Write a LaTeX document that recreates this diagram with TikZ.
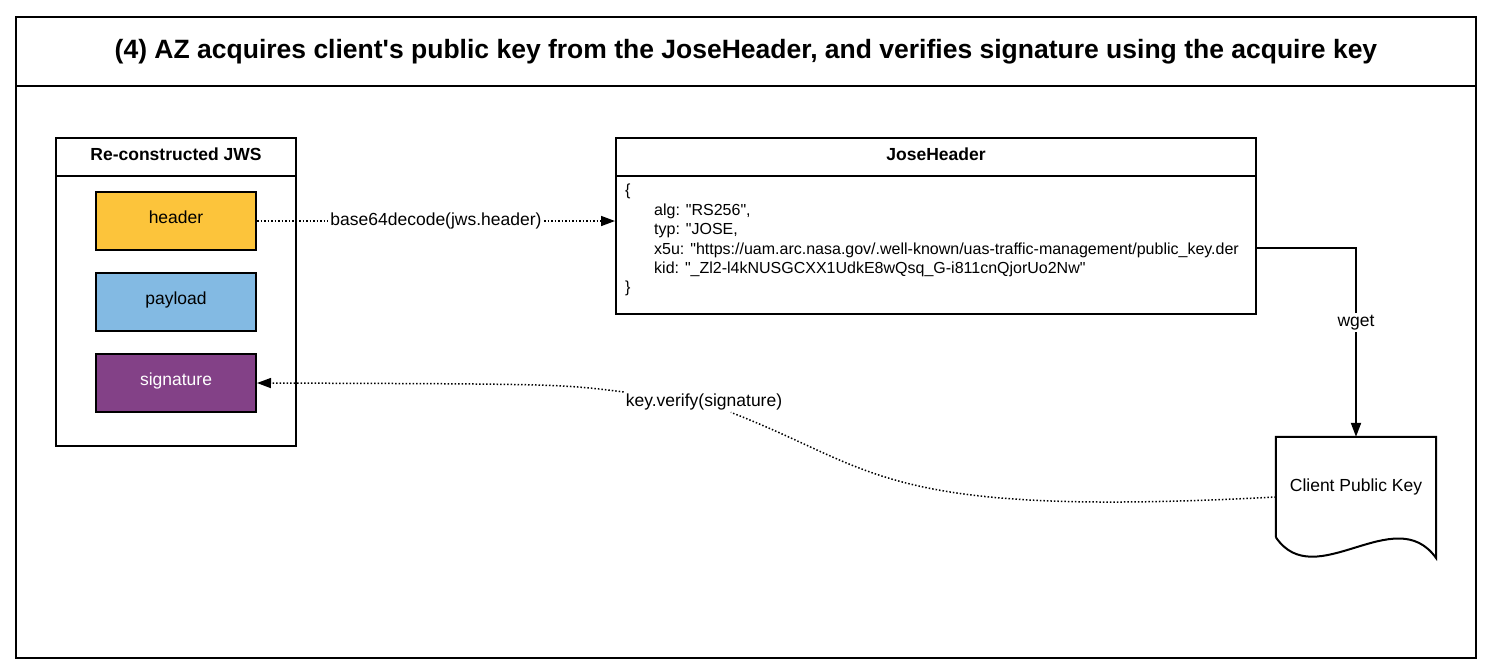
\documentclass[tikz,border=0pt]{standalone}
\usepackage{fontspec}
\setmainfont{Liberation Sans}[Ligatures=TeXOff]
\usetikzlibrary{arrows.meta,positioning}
\definecolor{hdrfill}{HTML}{FCC43B}
\definecolor{payfill}{HTML}{83BAE3}
\definecolor{sigfill}{HTML}{834187}
\begin{document}
\begin{tikzpicture}[x=1pt,y=-1pt,
    box/.style={draw,line width=2pt,inner sep=0pt,minimum width=#1},
    boxhead/.style={box=#1,minimum height=38,text height=13,text depth=7,font=\fontsize{17.5}{21}\selectfont\bfseries},
    part/.style={draw,line width=2pt,fill=#1,minimum width=160,minimum height=58,text height=13,text depth=8,font=\fontsize{17.5}{21}\selectfont},
    lbl/.style={fill=white,inner sep=2pt,font=\fontsize{17.5}{21}\selectfont},
    tip/.style={-{Triangle[length=14pt,width=10pt]}},
    vline/.style={tip,dotted,line width=1.5pt}]
  \useasboundingbox (0,0) rectangle (1491,670);
  % frame and title
  \node[box=1460,minimum height=69,font=\fontsize{26.5}{30}\selectfont\bfseries] (title) at (746,51.5) {(4) AZ acquires client's public key from the JoseHeader, and verifies signature using the acquire key};
  \node[box=1460,minimum height=572] (frame) at (746,372) {};
  % re-constructed JWS
  \node[boxhead=240] (jwst) at (176,157) {Re-constructed JWS};
  \node[box=240,minimum height=270] (jws) at (176,311) {};
  \node[part=hdrfill] (hdr) at (176,221) {header};
  \node[part=payfill] (pay) at (176,302) {payload};
  \node[part=sigfill,text=white] (sig) at (176,383) {signature};
  % JoseHeader
  \node[boxhead=640] (jht) at (936,157) {JoseHeader};
  \node[box=640,minimum height=138] (jh) at (936,245) {};
  \node[anchor=north west,align=left,inner sep=0pt,font=\fontsize{16}{19.4}\selectfont] (jhtext) at (625,184) {\{\\
    \hspace*{29pt}alg: "RS256",\\
    \hspace*{29pt}typ: "JOSE,\\
    \hspace*{29pt}x5u: "https://uam.arc.nasa.gov/.well-known/uas-traffic-management/public\_key.der\\
    \hspace*{29pt}kid: "\_Zl2-l4kNUSGCXX1UdkE8wQsq\_G-i811cnQjorUo2Nw"\\
    \}};
  % client public key
  \node[minimum width=160,minimum height=100,inner sep=0pt,font=\fontsize{17.5}{21}\selectfont] (cpk) at (1356,487) {Client Public Key};
  \draw[line width=2pt] (cpk.south west)--(cpk.north west)--(cpk.north east)--([yshift=-21pt]cpk.south east)
    .. controls (1395,500) and (1315,595) .. (cpk.south west);
  % connectors
  \draw[vline] (hdr.east)--node[lbl] (b64) {base64decode(jws.header)} (hdr.east -| jh.west);
  \draw[tip,line width=2pt] ([yshift=-3pt]jh.east) -| node[lbl,pos=0.698] (wget) {wget} (cpk.north);
  \node[lbl] (kv) at (704,402) {key.verify(signature)};
  \draw[vline] ([yshift=-10pt]cpk.west) .. controls (880,518) and (880,470) .. (kv) .. controls (560,384) .. (sig.east);
\end{tikzpicture}
\end{document}
